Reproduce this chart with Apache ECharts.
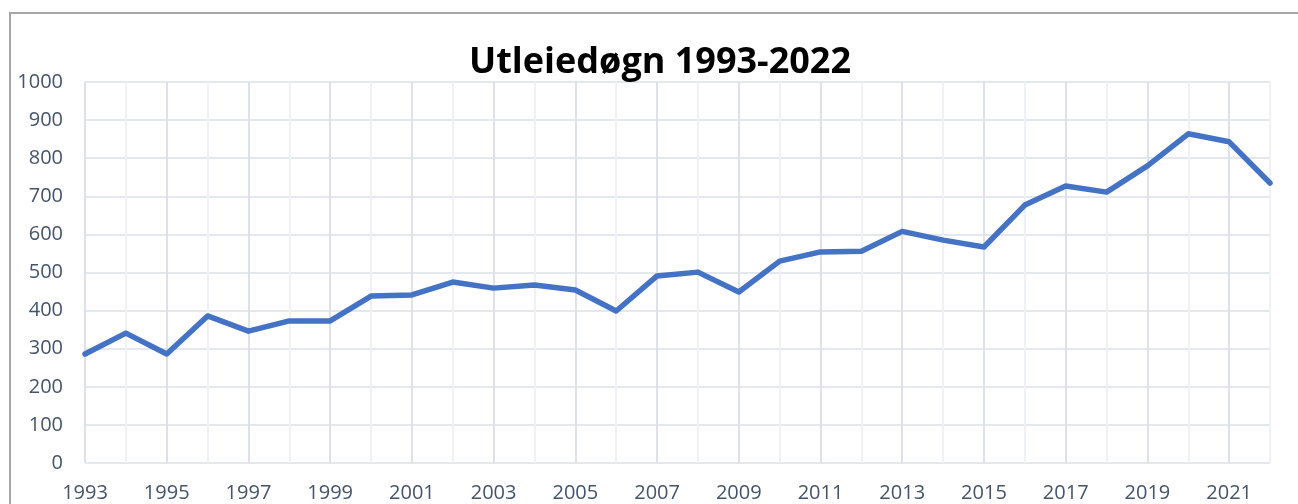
<!DOCTYPE html>
<html>
<head>
<meta charset="utf-8">
<script src="https://cdn.jsdelivr.net/npm/echarts@6/dist/echarts.min.js"></script>
<style>
html,body{margin:0;padding:0;background:#fff;}
#chart{width:1298px;height:504px;}
</style>
</head>
<body>
<div id="chart"></div>
<script>
var years = ['1993','1994','1995','1996','1997','1998','1999','2000','2001','2002','2003','2004','2005','2006','2007','2008','2009','2010','2011','2012','2013','2014','2015','2016','2017','2018','2019','2020','2021','2022'];
var nights = [286,341,286,386,346,373,373,438,441,475,459,467,454,399,491,501,449,530,554,556,608,585,567,677,727,711,780,864,843,735];
var yTicks = {min:0, max:1000, interval:100};
var titleText = 'Utleiedøgn 1993-2022';

var chart = echarts.init(document.getElementById('chart'), null, {renderer:'canvas'});
chart.setOption({
  animation:false,
  backgroundColor:'#fff',
  title:{
    text:titleText,
    left:655, top:40, textAlign:'center',
    textStyle:{fontFamily:'Open Sans', fontWeight:'bold', fontSize:36, color:'#000'}
  },
  graphic:[{
    type:'rect', z:-1, silent:true,
    shape:{x:10, y:13, width:1400, height:600},
    style:{fill:'none', stroke:'#a6a6a6', lineWidth:2}
  }],
  grid:{left:85, right:28, top:82, bottom:41, containLabel:false},
  xAxis:{
    type:'category', data:years, boundaryGap:false,
    axisLine:{show:false}, axisTick:{show:false},
    axisLabel:{interval:1, color:'#44546a', fontFamily:'Open Sans', fontSize:20, margin:20},
    splitLine:{show:true, interval:0, lineStyle:{color:['#dde2ea','#eef1f5'], width:2}}
  },
  yAxis:{
    type:'value', min:yTicks.min, max:yTicks.max, interval:yTicks.interval,
    axisLine:{show:false}, axisTick:{show:false},
    axisLabel:{color:'#44546a', fontFamily:'Open Sans', fontSize:20, margin:22, formatter:function(v){return String(v);}},
    splitLine:{show:true, lineStyle:{color:'#e3e7ee', width:2}}
  },
  series:[{
    type:'line', data:nights, showSymbol:false, symbol:'none',
    lineStyle:{color:'#4472c4', width:5.5, cap:'round', join:'round'},
    itemStyle:{color:'#4472c4'}
  }]
});
</script>
</body>
</html>
